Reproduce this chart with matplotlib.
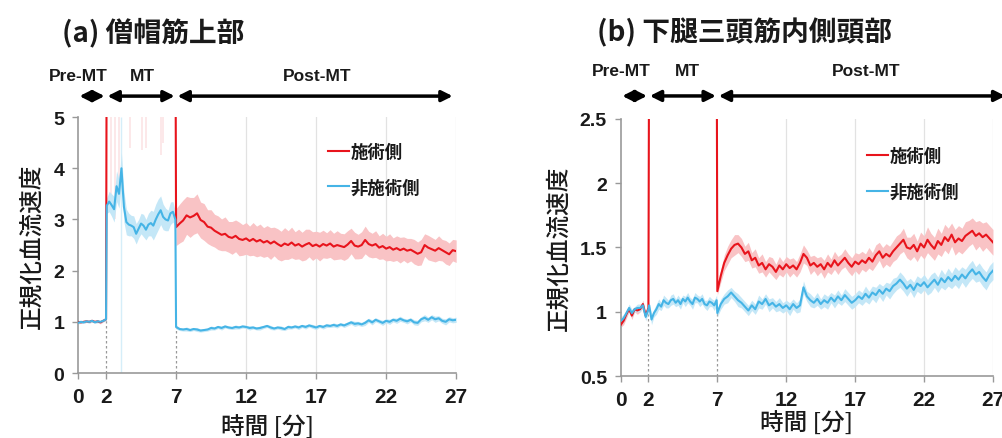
import numpy as np
import matplotlib
matplotlib.use('Agg')
import matplotlib.pyplot as plt
from matplotlib.ticker import FormatStrFormatter

plt.rcParams['font.family'] = ['Liberation Sans', 'Noto Sans CJK JP']
JP = ['Noto Sans CJK JP', 'DejaVu Sans']

# time grid [min]: pre-MT, MT, post-MT
t_pre = np.linspace(0, 2, 11)
t_mt = np.linspace(2.05, 6.95, 29)
t_post = np.linspace(7, 27, 81)

xticks = [0, 2, 7, 12, 17, 22, 27]
phases = ['Pre-MT', 'MT', 'Post-MT']
phase_edges = [0, 2, 7, 27]
labels = ['施術側', '非施術側']

# ---- (a) 僧帽筋上部 ----
red_a_pre = [1.00, 0.99, 1.00, 1.01, 1.00, 1.02, 1.00, 1.01, 0.99, 1.02, 1.05]
red_a_pre_sd = [0.02, 0.02, 0.03, 0.02, 0.02, 0.03, 0.02, 0.02, 0.03, 0.02, 0.03]
red_a_mt = [7.2, 7.5, 7.1, 7.6, 7.4, 7.0, 7.3, 7.5, 7.2, 7.6, 7.4, 7.1, 7.3, 7.5,
            7.2, 7.4, 7.6, 7.3, 7.1, 7.4, 7.5, 7.2, 7.0, 7.3, 7.6, 7.4, 7.2, 7.5, 7.3]
red_a_post = [2.85, 2.92, 2.98, 3.08, 3.04, 3.07, 3.12, 2.99, 2.95, 2.86,
              2.84, 2.78, 2.74, 2.70, 2.72, 2.66, 2.64, 2.68, 2.62, 2.60,
              2.63, 2.58, 2.62, 2.57, 2.60, 2.55, 2.58, 2.53, 2.57, 2.52,
              2.48, 2.53, 2.50, 2.55, 2.49, 2.52, 2.47, 2.51, 2.54, 2.48,
              2.51, 2.47, 2.52, 2.49, 2.53, 2.47, 2.50, 2.48, 2.46, 2.51,
              2.58, 2.49, 2.47, 2.50, 2.60, 2.52, 2.49, 2.52, 2.45, 2.48,
              2.43, 2.46, 2.41, 2.44, 2.40, 2.43, 2.39, 2.41, 2.37, 2.33,
              2.36, 2.50, 2.45, 2.42, 2.39, 2.44, 2.40, 2.36, 2.32, 2.40,
              2.38]
red_a_post_sd = [0.36, 0.38, 0.40, 0.37, 0.39, 0.36, 0.38, 0.35, 0.36, 0.33,
                 0.35, 0.32, 0.33, 0.31, 0.33, 0.30, 0.32, 0.31, 0.33, 0.30,
                 0.31, 0.29, 0.32, 0.30, 0.31, 0.29, 0.30, 0.31, 0.28, 0.30,
                 0.29, 0.31, 0.28, 0.30, 0.27, 0.29, 0.28, 0.30, 0.27, 0.28,
                 0.26, 0.28, 0.27, 0.25, 0.27, 0.26, 0.28, 0.25, 0.26, 0.27,
                 0.25, 0.26, 0.24, 0.26, 0.27, 0.25, 0.24, 0.26, 0.23, 0.25,
                 0.24, 0.26, 0.23, 0.24, 0.25, 0.23, 0.24, 0.22, 0.24, 0.23,
                 0.25, 0.22, 0.24, 0.23, 0.22, 0.24, 0.21, 0.23, 0.22, 0.21,
                 0.22]
blue_a_pre = [0.98, 1.00, 0.99, 1.01, 1.00, 1.02, 0.99, 1.01, 1.00, 1.02, 1.05]
blue_a_pre_sd = [0.02, 0.03, 0.02, 0.02, 0.03, 0.02, 0.02, 0.03, 0.02, 0.02, 0.03]
blue_a_mt = [3.27, 3.35, 3.28, 3.20, 3.65, 3.50, 4.00, 3.25, 2.95, 2.90,
             2.88, 2.85, 2.72, 2.82, 2.92, 2.88, 2.80, 2.90, 2.93, 2.88,
             3.00, 3.10, 3.18, 3.05, 3.00, 2.98, 3.12, 3.15, 3.00]
blue_a_mt_sd = [0.15, 0.20, 0.22, 0.25, 0.30, 0.28, 0.30, 0.30, 0.25, 0.22,
                0.20, 0.22, 0.20, 0.18, 0.20, 0.22, 0.20, 0.22, 0.25, 0.28,
                0.30, 0.30, 0.28, 0.25, 0.22, 0.20, 0.22, 0.20, 0.15]
blue_a_post = [0.90, 0.86, 0.85, 0.86, 0.84, 0.86, 0.85, 0.83, 0.84, 0.85,
               0.88, 0.87, 0.90, 0.88, 0.91, 0.89, 0.88, 0.90, 0.89, 0.91,
               0.90, 0.88, 0.89, 0.87, 0.88, 0.90, 0.92, 0.89, 0.87, 0.89,
               0.88, 0.86, 0.90, 0.89, 0.91, 0.89, 0.92, 0.90, 0.93, 0.91,
               0.89, 0.92, 0.90, 0.93, 0.92, 0.94, 0.92, 0.95, 0.93, 0.96,
               0.99, 0.96, 0.97, 0.95, 0.98, 1.03, 0.99, 1.04, 1.01, 0.98,
               1.02, 1.00, 1.04, 1.02, 1.06, 1.03, 1.01, 1.04, 0.99, 0.98,
               1.05, 1.08, 1.04, 1.09, 1.05, 1.07, 1.02, 1.00, 1.05, 1.03,
               1.04]
blue_a_post_sd = [0.04, 0.03, 0.03, 0.04, 0.03, 0.03, 0.04, 0.03, 0.03, 0.03,
                  0.04, 0.03, 0.03, 0.04, 0.03, 0.03, 0.03, 0.04, 0.03, 0.03,
                  0.03, 0.04, 0.03, 0.03, 0.04, 0.03, 0.03, 0.04, 0.03, 0.03,
                  0.04, 0.03, 0.04, 0.03, 0.03, 0.04, 0.03, 0.04, 0.03, 0.04,
                  0.04, 0.03, 0.04, 0.04, 0.03, 0.04, 0.04, 0.03, 0.04, 0.04,
                  0.04, 0.05, 0.04, 0.04, 0.05, 0.04, 0.05, 0.04, 0.04, 0.05,
                  0.04, 0.05, 0.04, 0.05, 0.05, 0.04, 0.05, 0.04, 0.05, 0.05,
                  0.05, 0.06, 0.05, 0.05, 0.06, 0.05, 0.05, 0.06, 0.05, 0.05,
                  0.05]
# faint band spikes during MT (time, lower end)
spike_a_t = [2.35, 2.65, 2.9, 3.7, 4.55, 4.85, 5.9, 6.1]
spike_a_lo = [3.2, 3.0, 3.4, 4.4, 4.35, 4.4, 4.25, 4.5]

# ---- (b) 下腿三頭筋内側頭部 ----
red_b_pre = [0.90, 0.93, 0.98, 1.02, 0.97, 1.02, 1.01, 1.02, 1.06, 0.97, 1.03]
red_b_pre_sd = [0.02, 0.03, 0.03, 0.02, 0.03, 0.02, 0.03, 0.02, 0.03, 0.03, 0.02]
red_b_mt = [3.2, 3.4, 3.1, 3.5, 3.3, 3.2, 3.6, 3.4, 3.1, 3.3, 3.5, 3.2, 3.4, 3.3,
            3.1, 3.5, 3.4, 3.2, 3.3, 3.6, 3.4, 3.2, 3.1, 3.3, 3.5, 3.4, 3.2, 3.3, 3.4]
red_b_post = [1.16, 1.28, 1.38, 1.44, 1.49, 1.52, 1.53, 1.50, 1.45, 1.47,
              1.40, 1.42, 1.36, 1.38, 1.33, 1.37, 1.35, 1.31, 1.36, 1.33,
              1.37, 1.34, 1.36, 1.33, 1.38, 1.45, 1.42, 1.36, 1.38, 1.35,
              1.37, 1.33, 1.38, 1.35, 1.40, 1.36, 1.39, 1.42, 1.38, 1.35,
              1.39, 1.37, 1.40, 1.38, 1.42, 1.39, 1.44, 1.47, 1.42, 1.45,
              1.43, 1.47, 1.50, 1.53, 1.56, 1.50, 1.49, 1.52, 1.47, 1.53,
              1.50, 1.56, 1.52, 1.49, 1.55, 1.52, 1.58, 1.55, 1.60, 1.54,
              1.57, 1.55, 1.59, 1.61, 1.63, 1.59, 1.61, 1.58, 1.60, 1.57,
              1.54]
red_b_post_sd = [0.03, 0.05, 0.06, 0.07, 0.07, 0.08, 0.07, 0.07, 0.06, 0.07,
                 0.06, 0.07, 0.06, 0.07, 0.06, 0.06, 0.07, 0.06, 0.07, 0.06,
                 0.06, 0.07, 0.06, 0.06, 0.07, 0.07, 0.06, 0.07, 0.06, 0.07,
                 0.06, 0.07, 0.07, 0.06, 0.07, 0.07, 0.06, 0.07, 0.07, 0.07,
                 0.07, 0.08, 0.07, 0.07, 0.08, 0.07, 0.08, 0.07, 0.08, 0.08,
                 0.08, 0.08, 0.09, 0.08, 0.09, 0.08, 0.09, 0.09, 0.08, 0.09,
                 0.09, 0.10, 0.09, 0.09, 0.10, 0.09, 0.10, 0.10, 0.09, 0.10,
                 0.10, 0.10, 0.11, 0.10, 0.10, 0.11, 0.10, 0.11, 0.10, 0.10,
                 0.10]
blue_b_pre = [0.93, 0.95, 0.99, 1.03, 0.99, 1.02, 1.03, 1.03, 1.05, 0.96, 1.02]
blue_b_pre_sd = [0.03, 0.03, 0.02, 0.03, 0.03, 0.02, 0.03, 0.03, 0.02, 0.03, 0.03]
blue_b_mt = [1.05, 0.94, 0.99, 1.02, 1.06, 1.04, 1.09, 1.07, 1.06, 1.09,
             1.10, 1.07, 1.09, 1.06, 1.10, 1.08, 1.11, 1.08, 1.06, 1.11,
             1.10, 1.08, 1.10, 1.06, 1.05, 1.08, 1.07, 1.05, 1.09]
blue_b_mt_sd = [0.03, 0.04, 0.03, 0.04, 0.04, 0.03, 0.04, 0.04, 0.03, 0.04,
                0.04, 0.03, 0.04, 0.04, 0.03, 0.04, 0.04, 0.03, 0.04, 0.04,
                0.03, 0.04, 0.04, 0.03, 0.04, 0.04, 0.03, 0.04, 0.04]
blue_b_post = [0.99, 1.06, 1.10, 1.12, 1.15, 1.12, 1.09, 1.07, 1.04, 1.01,
               1.05, 1.02, 1.08, 1.06, 1.10, 1.05, 1.07, 1.04, 1.06, 1.03,
               1.05, 1.02, 1.06, 1.03, 1.05, 1.19, 1.12, 1.09, 1.07, 1.10,
               1.06, 1.09, 1.07, 1.11, 1.08, 1.12, 1.09, 1.13, 1.10, 1.07,
               1.09, 1.12, 1.10, 1.14, 1.11, 1.15, 1.13, 1.17, 1.14, 1.18,
               1.16, 1.20, 1.22, 1.25, 1.22, 1.18, 1.21, 1.17, 1.22, 1.20,
               1.23, 1.19, 1.22, 1.25, 1.21, 1.26, 1.23, 1.27, 1.24, 1.28,
               1.25, 1.29, 1.26, 1.30, 1.33, 1.29, 1.31, 1.27, 1.24, 1.29,
               1.32]
blue_b_post_sd = [0.03, 0.04, 0.04, 0.05, 0.04, 0.04, 0.05, 0.04, 0.04, 0.04,
                  0.04, 0.04, 0.05, 0.04, 0.04, 0.05, 0.04, 0.04, 0.05, 0.04,
                  0.04, 0.05, 0.04, 0.04, 0.05, 0.05, 0.04, 0.05, 0.04, 0.05,
                  0.04, 0.05, 0.05, 0.04, 0.05, 0.05, 0.04, 0.05, 0.05, 0.05,
                  0.05, 0.05, 0.05, 0.06, 0.05, 0.05, 0.06, 0.05, 0.06, 0.05,
                  0.06, 0.06, 0.05, 0.06, 0.06, 0.06, 0.05, 0.06, 0.06, 0.06,
                  0.06, 0.06, 0.07, 0.06, 0.06, 0.07, 0.06, 0.07, 0.06, 0.07,
                  0.07, 0.06, 0.07, 0.07, 0.07, 0.06, 0.07, 0.07, 0.07, 0.07,
                  0.07]

RED = '#e8141c'
BLUE = '#45b4e6'
PINK = '#f9c3c5'
LBLUE = '#c4e7f7'

fig = plt.figure(figsize=(10.03, 4.39), dpi=100)


def draw_panel(ax, title, title_x, red_parts, blue_parts, ylim, yticks, fmt,
               arrow_y, label_y, label_x, post_end, legend_pos, xpad):
    t = np.concatenate([t_pre, t_mt, t_post])
    red = np.concatenate([red_parts[0], red_parts[1], red_parts[2]])
    blue = np.concatenate([blue_parts[0], blue_parts[1], blue_parts[2]])
    red_sd = np.concatenate([red_parts[3], np.zeros(len(t_mt)), red_parts[4]])
    blue_sd = np.concatenate([blue_parts[3], blue_parts[4], blue_parts[5]])

    ax.set_xlim(0, 27)
    ax.set_ylim(*ylim)

    for g in [12, 17, 22, 27]:
        ax.axvline(g, color='#e2e2e2', lw=0.9, zorder=0)
    # dashed markers at MT start / end
    for i, x in enumerate([2, 7]):
        k = len(t_pre) - 1 if i == 0 else len(t_pre) + len(t_mt)
        ax.vlines(x, ylim[0], min(red[k], blue[k]), colors='#999999',
                  linestyles=(0, (2, 2)), lw=0.9, zorder=1)

    ax.fill_between(t, red - red_sd, red + red_sd, color=PINK, lw=0, zorder=2)
    ax.fill_between(t, blue - blue_sd, blue + blue_sd, color=LBLUE, lw=0, zorder=2)
    ax.plot(t, red, color=RED, lw=1.5, label=labels[0], zorder=3)
    ax.plot(t, blue, color=BLUE, lw=1.5, label=labels[1], zorder=4)

    ax.set_xticks(xticks)
    ax.set_yticks(yticks)
    ax.yaxis.set_major_formatter(FormatStrFormatter(fmt))
    ax.tick_params(width=1, length=4, color='#999999', labelcolor='#1a1a1a', pad=6)
    ax.tick_params(axis='x', labelsize=15)
    ax.tick_params(axis='y', labelsize=14)
    for lab in ax.get_xticklabels() + ax.get_yticklabels():
        lab.set_fontweight('bold')
    for s in ['top', 'right']:
        ax.spines[s].set_visible(False)
    for s in ['left', 'bottom']:
        ax.spines[s].set_color('#999999')
        ax.spines[s].set_linewidth(1.2)

    ax.set_ylabel('正規化血流速度', family=JP, fontsize=17, fontweight='medium',
                  color='#1a1a1a', labelpad=7)
    ax.set_xlabel('時間 [分]', family=JP, fontsize=17, fontweight='medium',
                  color='#1a1a1a', labelpad=xpad)

    # phase arrows and labels
    tr = ax.get_xaxis_transform()
    ends = phase_edges[:-1] + [post_end]
    for i in range(3):
        ax.annotate('', xy=(ends[i + 1], arrow_y), xytext=(phase_edges[i], arrow_y),
                    xycoords=tr, textcoords=tr, annotation_clip=False,
                    arrowprops=dict(arrowstyle='<|-|>', color='black', lw=2.5,
                                    mutation_scale=16, shrinkA=1, shrinkB=1))
        ax.text(label_x[i], label_y, phases[i], transform=tr, ha='center',
                va='center', fontsize=12.5, fontweight='bold', color='#1a1a1a',
                clip_on=False)

    fig.text(title_x, 0.925, title, family=JP, fontsize=20, fontweight='bold',
             ha='left', va='center', color='#1a1a1a')

    leg = ax.legend(loc='upper left', bbox_to_anchor=legend_pos, frameon=False,
                    handlelength=1.2, handletextpad=0.1, labelspacing=1.0,
                    prop={'family': JP, 'size': 12.5, 'weight': 'bold'})
    for txt in leg.get_texts():
        txt.set_color('#1a1a1a')
    return ax


ax_a = fig.add_axes([0.0778, 0.148, 0.377, 0.583])
draw_panel(ax_a, '(a) 僧帽筋上部', 0.062,
           [red_a_pre, red_a_mt, red_a_post, red_a_pre_sd, red_a_post_sd],
           [blue_a_pre, blue_a_mt, blue_a_post, blue_a_pre_sd, blue_a_mt_sd, blue_a_post_sd],
           (0, 5), [0, 1, 2, 3, 4, 5], '%g', 1.082, 1.164, [0.0, 4.6, 17.1], 26.85,
           (0.62, 0.96), 6)
ax_a.vlines(spike_a_t, spike_a_lo, 5, colors=PINK, lw=1.2, alpha=0.45, zorder=1)
ax_a.vlines([3.1], 0, 5, colors=LBLUE, lw=1.0, alpha=0.7, zorder=1)

ax_b = fig.add_axes([0.619, 0.141, 0.371, 0.586])
draw_panel(ax_b, '(b) 下腿三頭筋内側頭部', 0.595,
           [red_b_pre, red_b_mt, red_b_post, red_b_pre_sd, red_b_post_sd],
           [blue_b_pre, blue_b_mt, blue_b_post, blue_b_pre_sd, blue_b_mt_sd, blue_b_post_sd],
           (0.5, 2.5), [0.5, 1, 1.5, 2, 2.5], '%g', 1.089, 1.187, [0.0, 4.85, 17.8], 28.0,
           (0.62, 0.95), 1)

fig.savefig('out.png', dpi=100)
